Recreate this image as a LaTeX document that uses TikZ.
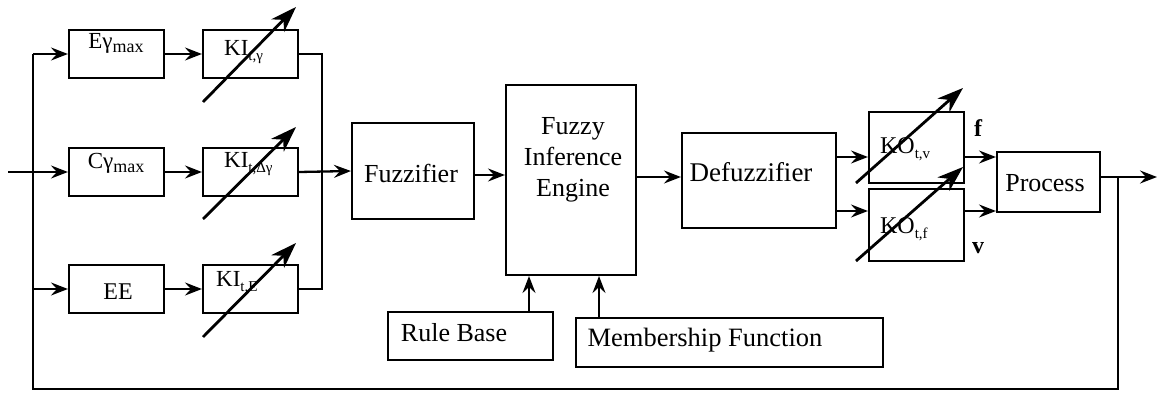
\documentclass[tikz,border=0pt]{standalone}
\usepackage{fontspec}
\setmainfont{Liberation Serif}
\usetikzlibrary{arrows.meta}
\newcommand{\sbs}[1]{\raisebox{-5pt}{\fontsize{15}{15}\selectfont #1}}
\newcommand{\sbm}[1]{\raisebox{-4pt}{\fontsize{18}{18}\selectfont #1}}
\begin{document}
\begin{tikzpicture}[x=1pt,y=-1pt,
  line width=2.3pt,
  box/.style={draw,rectangle,inner sep=0pt,line width=2.1pt},
  txt/.style={inner sep=0pt,font=\fontsize{26}{31}\selectfont,align=center},
  stxt/.style={inner sep=0pt,font=\fontsize{23}{26}\selectfont},
  arr/.style={-{Stealth[length=17pt,width=13pt,inset=6pt]}},
  slash/.style={line width=2.8pt,-{Stealth[length=26pt,width=18pt,inset=8pt]}}]
\useasboundingbox (0,0) rectangle (1164,393);
% boxes
\node[box,minimum width=95pt,minimum height=48pt] (Emax) at (116.5,54) {};
\node[box,minimum width=95pt,minimum height=48pt] (KIg) at (250.5,54) {};
\node[box,minimum width=95pt,minimum height=48pt] (Cmax) at (116.5,172) {};
\node[box,minimum width=95pt,minimum height=48pt] (KIdg) at (250.5,172) {};
\node[box,minimum width=95pt,minimum height=48pt] (EE) at (116.5,289) {};
\node[box,minimum width=95pt,minimum height=48pt] (KIE) at (250.5,289) {};
\node[box,minimum width=122pt,minimum height=96pt] (Fuzz) at (413,171) {};
\node[box,minimum width=130pt,minimum height=190pt] (FIE) at (571,180) {};
\node[box,minimum width=154pt,minimum height=95pt] (Defuzz) at (759,180.5) {};
\node[box,minimum width=95pt,minimum height=71pt] (KOv) at (916.5,147.5) {};
\node[box,minimum width=95pt,minimum height=72pt] (KOf) at (916.5,225) {};
\node[box,minimum width=103pt,minimum height=60pt] (Proc) at (1048.5,182) {};
\node[box,minimum width=165pt,minimum height=48pt] (Rule) at (470.5,336) {};
\node[box,minimum width=307pt,minimum height=49pt] (MF) at (729.5,342.5) {};
% texts
\node[stxt] (tE) at (116,43) {Eγ\sbm{max}};
\node[stxt] (tC) at (116,163) {Cγ\sbm{max}};
\node[stxt,font=\fontsize{24}{26}\selectfont] (tEE) at (118,292) {EE};
\node[stxt,anchor=west] (tKIg) at (223,52) {KI\sbs{t,γ}};
\node[stxt,anchor=west] (tKIdg) at (223,164) {KI\sbs{t,Δγ}};
\node[stxt,anchor=west] (tKIE) at (215,283) {KI\sbs{t,E}};
\node[txt] (tF) at (411,173) {Fuzzifier};
\node[txt] (tFIE) at (573,160) {Fuzzy\\Inference\\Engine};
\node[txt,font=\fontsize{27}{31}\selectfont] (tD) at (751,172) {Defuzzifier};
\node[stxt,font=\fontsize{24}{26}\selectfont,anchor=west] (tKOv) at (879,149) {KO\sbs{t,v}};
\node[stxt,font=\fontsize{24}{26}\selectfont,anchor=west] (tKOf) at (879,229) {KO\sbs{t,f}};
\node[txt] (tP) at (1045,183) {Process};
\node[txt] (tR) at (454,333) {Rule Base};
\node[txt,font=\fontsize{26.5}{31}\selectfont] (tM) at (705,340) {Membership Function};
\node[txt,font=\bfseries\fontsize{24}{26}\selectfont] (lf) at (978,128) {f};
\node[txt,font=\bfseries\fontsize{24}{26}\selectfont] (lv) at (978,248) {v};
% coordinates
\coordinate (in) at (8,172);
\coordinate (jE) at (33,54);
\coordinate (jEE) at (33,289);
\coordinate (fbL) at (33,389);
\coordinate (fbR) at (1118,389);
\coordinate (split) at (1118,177);
\coordinate (out) at (1157,177);
\coordinate (cT) at (322,54);
\coordinate (cB) at (322,289);
% left input network
\draw[arr] (in) -- (Cmax.west);
\draw (split) -- (fbR) -- (fbL) -- (jEE) -- (jE);
\draw[arr] (jE) -- (Emax.west);
\draw[arr] (jEE) -- (EE.west);
\draw[arr] (Emax.east) -- (KIg.west);
\draw[arr] (Cmax.east) -- (KIdg.west);
\draw[arr] (EE.east) -- (KIE.west);
\draw (KIg.east) -- (cT) -- (cB) -- (KIE.east);
\draw[arr] (KIdg.east) -- (Fuzz.west);
% main chain
\draw[arr] (Fuzz.east |- 0,175) -- (FIE.west |- 0,175);
\draw[arr] (FIE.east |- 0,177) -- (Defuzz.west |- 0,177);
\draw[arr] (Defuzz.east |- 0,157) -- (KOv.west |- 0,157);
\draw[arr] (Defuzz.east |- 0,211) -- (KOf.west |- 0,211);
\draw[arr] (KOv.east |- 0,157) -- (Proc.west |- 0,157);
\draw[arr] (KOf.east |- 0,211) -- (Proc.west |- 0,211);
\draw[arr] (Proc.east |- split) -- (out);
\draw[arr] (Rule.north -| 529,0) -- (FIE.south -| 529,0);
\draw[arr] (MF.north -| 599,0) -- (FIE.south -| 599,0);
% adjustable gain slashes
\coordinate (s1a) at (203,102); \coordinate (s1b) at (296,7);
\coordinate (s2a) at (203,219); \coordinate (s2b) at (296,127);
\coordinate (s3a) at (203,337); \coordinate (s3b) at (296,243);
\coordinate (s4a) at (856,183); \coordinate (s4b) at (963,88);
\coordinate (s5a) at (856,261); \coordinate (s5b) at (963,167);
\draw[slash] (s1a) -- (s1b);
\draw[slash] (s2a) -- (s2b);
\draw[slash] (s3a) -- (s3b);
\draw[slash] (s4a) -- (s4b);
\draw[slash] (s5a) -- (s5b);
\end{tikzpicture}
\end{document}
